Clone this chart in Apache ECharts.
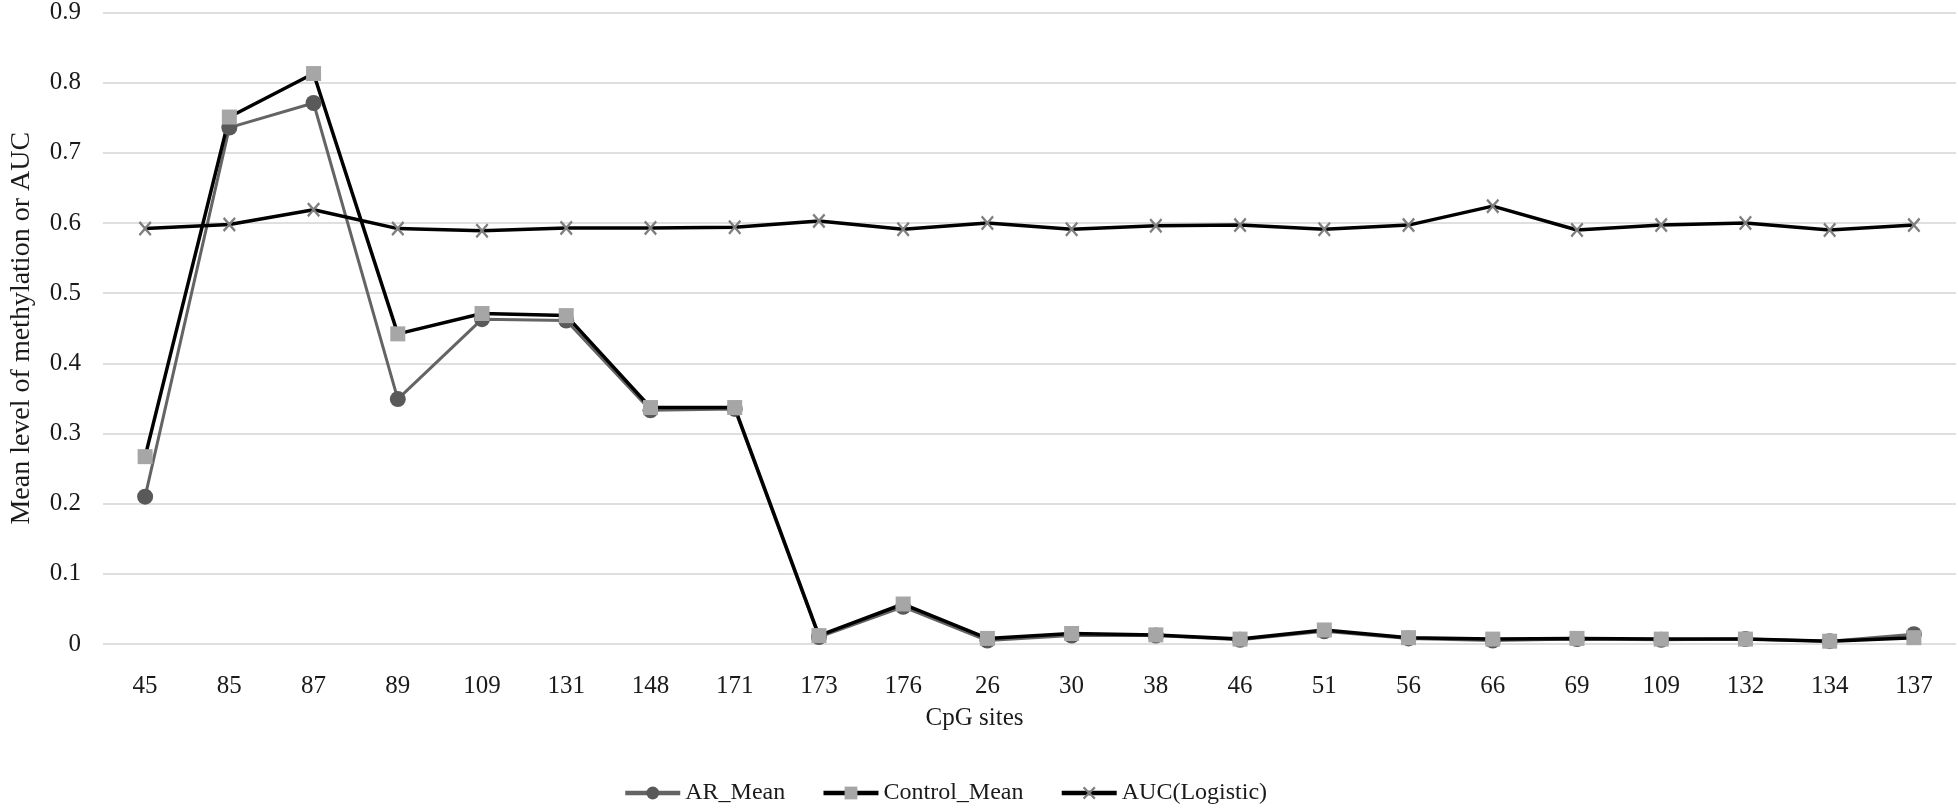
<!DOCTYPE html>
<html>
<head>
<meta charset="utf-8">
<script src="https://cdn.jsdelivr.net/npm/echarts@6/dist/echarts.min.js"></script>
<style>
html,body{margin:0;padding:0;background:#fff;}
#chart{width:1958px;height:812px;}
</style>
</head>
<body>
<div id="chart"></div>
<script>
const categories = ['45','85','87','89','109','131','148','171','173','176','26','30','38','46','51','56','66','69','109','132','134','137'];
const arMean = [0.210,0.736,0.771,0.349,0.463,0.461,0.333,0.335,0.010,0.053,0.005,0.012,0.012,0.006,0.018,0.008,0.005,0.007,0.006,0.007,0.004,0.014];
const controlMean = [0.267,0.751,0.813,0.442,0.471,0.468,0.337,0.337,0.012,0.057,0.008,0.015,0.013,0.007,0.020,0.009,0.007,0.008,0.007,0.007,0.004,0.009];
const aucLogistic = [0.592,0.598,0.619,0.592,0.589,0.593,0.593,0.594,0.603,0.591,0.600,0.591,0.596,0.597,0.591,0.597,0.624,0.590,0.597,0.600,0.590,0.597];
const yTicks = {min:0, max:0.9, interval:0.1};

const FONT = 'Liberation Serif, Times New Roman, serif';
const crossPath = 'path://M0,1.2L1.2,0L5,3.8L8.8,0L10,1.2L6.2,5L10,8.8L8.8,10L5,6.2L1.2,10L0,8.8L3.8,5Z';

const chart = echarts.init(document.getElementById('chart'), null, {renderer:'canvas'});
chart.setOption({
  animation:false,
  backgroundColor:'#ffffff',
  textStyle:{fontFamily:FONT, color:'#1a1a1a'},
  grid:{left:99, right:2, top:12, bottom:168, containLabel:false},
  legend:{
    left:618, top:776,
    itemWidth:55, itemHeight:16, itemGap:36,
    lineStyle:{width:4.5},
    textStyle:{fontFamily:FONT, fontSize:24, color:'#1a1a1a'},
    data:['AR_Mean','Control_Mean','AUC(Logistic)']
  },
  xAxis:{
    type:'category', data:categories, boundaryGap:true,
    axisLine:{show:false}, axisTick:{show:false},
    axisLabel:{fontFamily:FONT, fontSize:25, color:'#1a1a1a', margin:30, interval:0},
    name:'CpG sites', nameLocation:'middle', nameGap:62,
    nameTextStyle:{fontFamily:FONT, fontSize:25, color:'#1a1a1a', padding:[0,110,0,0]}
  },
  yAxis:{
    type:'value', min:yTicks.min, max:yTicks.max, interval:yTicks.interval,
    axisLine:{show:false}, axisTick:{show:false},
    axisLabel:{fontFamily:FONT, fontSize:25, color:'#1a1a1a', margin:22},
    splitLine:{lineStyle:{color:'#d4d4d4', width:1.5}},
    name:'Mean level of methylation or AUC', nameLocation:'middle', nameGap:67,
    nameTextStyle:{fontFamily:FONT, fontSize:28, color:'#1a1a1a'}
  },
  series:[
    {
      name:'AR_Mean', type:'line', data:arMean,
      symbol:'circle', symbolSize:16,
      lineStyle:{color:'#646464', width:3},
      itemStyle:{color:'#595959'}
    },
    {
      name:'Control_Mean', type:'line', data:controlMean,
      symbol:'rect', symbolSize:15,
      lineStyle:{color:'#000000', width:3.5},
      itemStyle:{color:'#a6a6a6'}
    },
    {
      name:'AUC(Logistic)', type:'line', data:aucLogistic,
      symbol:crossPath, symbolSize:[13,15],
      lineStyle:{color:'#000000', width:3.5},
      itemStyle:{color:'#7f7f7f'}
    }
  ]
});
</script>
</body>
</html>
